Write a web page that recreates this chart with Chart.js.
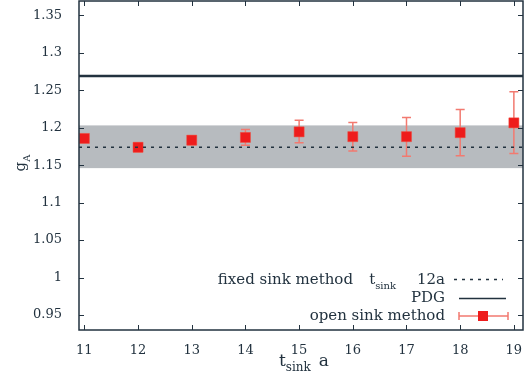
<!DOCTYPE html>
<html>
<head>
<meta charset="utf-8">
<script src="https://cdn.jsdelivr.net/npm/chart.js@4.4.0/dist/chart.umd.min.js"></script>
<style>
  html, body { margin: 0; padding: 0; background: #fff; }
  #wrap { width: 525px; height: 378px; position: relative; }
</style>
</head>
<body>
<div id="wrap"><canvas id="chart"></canvas></div>
<script>
// open sink method: g_A per t_sink/a, with lower/upper error ends
const tSink = [11, 12, 13, 14, 15, 16, 17, 18, 19];
const gA = [1.1856, 1.1738, 1.1833, 1.1870, 1.1944, 1.1880, 1.1880, 1.1933, 1.2064];
const gALow = [1.1806, 1.1678, 1.1773, 1.1765, 1.1800, 1.1690, 1.1620, 1.1624, 1.1656];
const gAHigh = [1.1906, 1.1798, 1.1893, 1.1975, 1.2100, 1.2070, 1.2136, 1.2243, 1.2478];

// fixed sink method (t_sink = 12a): central value and error band
const fixedSink = 1.174;
const fixedSinkLow = 1.146;
const fixedSinkHigh = 1.203;

// PDG value
const pdgValue = 1.269;

const xTicks = [11, 12, 13, 14, 15, 16, 17, 18, 19];
const yTicks = [0.95, 1, 1.05, 1.1, 1.15, 1.2, 1.25, 1.3, 1.35];
const xRange = [10.9, 19.17];
const yRange = [0.93, 1.369];

const FONT = '"DejaVu Serif", serif';
const INK = '#22323f';
const RED = '#ee1c1c';
const RED_LIGHT = '#f27a70';

// text with a subscript part, e.g. t_sink
function subText(ctx, x, y, base, sub, size, align) {
  ctx.font = size + 'px ' + FONT;
  const wb = ctx.measureText(base).width;
  ctx.font = Math.round(size * 0.68) + 'px ' + FONT;
  const ws = ctx.measureText(sub).width;
  let x0 = x;
  if (align === 'right') x0 = x - wb - ws;
  if (align === 'center') x0 = x - (wb + ws) / 2;
  ctx.textAlign = 'left';
  ctx.textBaseline = 'alphabetic';
  ctx.font = size + 'px ' + FONT;
  ctx.fillText(base, x0, y);
  ctx.font = Math.round(size * 0.68) + 'px ' + FONT;
  ctx.fillText(sub, x0 + wb, y + size * 0.3);
  return x0 + wb + ws;
}

const frame = {
  id: 'frame',
  beforeDatasetsDraw(chart) {
    const { ctx, chartArea: a, scales: { x, y } } = chart;
    ctx.save();
    // error band of the fixed sink result
    ctx.fillStyle = '#b7bbbf';
    const yt = y.getPixelForValue(fixedSinkHigh);
    const yb = y.getPixelForValue(fixedSinkLow);
    ctx.fillRect(a.left, yt, a.right - a.left, yb - yt);

    // error bars, under the point markers
    ctx.strokeStyle = RED_LIGHT;
    ctx.lineWidth = 1.5;
    tSink.forEach((t, i) => {
      const px = x.getPixelForValue(t);
      const lo = y.getPixelForValue(gALow[i]);
      const hi = y.getPixelForValue(gAHigh[i]);
      ctx.beginPath();
      ctx.moveTo(px, lo); ctx.lineTo(px, hi);
      ctx.moveTo(px - 4.5, lo); ctx.lineTo(px + 4.5, lo);
      ctx.moveTo(px - 4.5, hi); ctx.lineTo(px + 4.5, hi);
      ctx.stroke();
    });
    ctx.restore();
  },
  afterDraw(chart) {
    const { ctx, chartArea: a, scales: { x, y } } = chart;
    ctx.save();
    // plot border and inward ticks
    ctx.strokeStyle = INK;
    ctx.lineWidth = 1.5;
    ctx.strokeRect(a.left, a.top, a.right - a.left, a.bottom - a.top);
    ctx.lineWidth = 1;
    ctx.beginPath();
    xTicks.forEach(v => {
      const px = Math.round(x.getPixelForValue(v)) + 0.5;
      ctx.moveTo(px, a.bottom); ctx.lineTo(px, a.bottom - 5);
      ctx.moveTo(px, a.top); ctx.lineTo(px, a.top + 5);
    });
    yTicks.forEach(v => {
      const py = Math.round(y.getPixelForValue(v)) + 0.5;
      ctx.moveTo(a.left, py); ctx.lineTo(a.left + 5, py);
      ctx.moveTo(a.right, py); ctx.lineTo(a.right - 5, py);
    });
    ctx.stroke();

    ctx.fillStyle = INK;
    // x axis title
    const end = subText(ctx, 279, 366, 't', 'sink', 17, 'left');
    ctx.font = '17px ' + FONT;
    ctx.fillText('a', end + 8, 366);

    // y axis title, rotated
    ctx.save();
    ctx.translate(25, 163);
    ctx.rotate(-Math.PI / 2);
    subText(ctx, 0, 0, 'g', 'A', 15, 'center');
    ctx.restore();

    // legend
    ctx.font = '15px ' + FONT;
    ctx.textAlign = 'right';
    ctx.fillText('12a', 445, 284);
    subText(ctx, 396, 284, 't', 'sink', 15, 'right');
    ctx.font = '15px ' + FONT;
    ctx.textAlign = 'right';
    ctx.fillText('fixed sink method', 353, 284);
    ctx.fillText('PDG', 445, 302);
    ctx.fillText('open sink method', 445, 320);

    ctx.lineWidth = 1.3;
    ctx.setLineDash([3, 5]);
    ctx.beginPath(); ctx.moveTo(454, 279.5); ctx.lineTo(503, 279.5); ctx.stroke();
    ctx.setLineDash([]);
    ctx.lineWidth = 1.3;
    ctx.beginPath(); ctx.moveTo(459, 298.5); ctx.lineTo(506, 298.5); ctx.stroke();
    ctx.strokeStyle = RED_LIGHT;
    ctx.lineWidth = 1.5;
    ctx.beginPath();
    ctx.moveTo(459, 316); ctx.lineTo(508, 316);
    ctx.moveTo(459, 312); ctx.lineTo(459, 320);
    ctx.moveTo(508, 312); ctx.lineTo(508, 320);
    ctx.stroke();
    ctx.fillStyle = RED;
    ctx.fillRect(478, 311, 10, 10);
    ctx.restore();
  }
};

new Chart(document.getElementById('chart'), {
  type: 'scatter',
  data: {
    datasets: [
      {
        label: 'fixed sink method',
        type: 'line',
        data: [{ x: xRange[0], y: fixedSink }, { x: xRange[1], y: fixedSink }],
        borderColor: INK,
        borderWidth: 1.5,
        borderDash: [3, 5],
        pointRadius: 0,
        fill: false
      },
      {
        label: 'PDG',
        type: 'line',
        data: [{ x: xRange[0], y: pdgValue }, { x: xRange[1], y: pdgValue }],
        borderColor: INK,
        borderWidth: 2.5,
        pointRadius: 0,
        fill: false
      },
      {
        label: 'open sink method',
        data: tSink.map((t, i) => ({ x: t, y: gA[i] })),
        pointStyle: 'rect',
        pointRadius: 7.1,
        backgroundColor: RED,
        borderColor: '#f04a3a',
        borderWidth: 0.5
      }
    ]
  },
  options: {
    responsive: true,
    maintainAspectRatio: false,
    animation: false,
    layout: { autoPadding: false, padding: { top: 1, right: 2, left: 0, bottom: 0 } },
    plugins: { legend: { display: false }, tooltip: { enabled: false } },
    scales: {
      x: {
        type: 'linear',
        min: xRange[0],
        max: xRange[1],
        afterBuildTicks: s => { s.ticks = xTicks.map(v => ({ value: v })); },
        afterFit: s => { s.height = 48; s.paddingLeft = 0; s.paddingRight = 0; },
        grid: { display: false },
        border: { display: false },
        ticks: {
          color: INK,
          font: { family: FONT, size: 13 },
          padding: 5,
          maxRotation: 0,
          callback: v => String(v)
        }
      },
      y: {
        min: yRange[0],
        max: yRange[1],
        afterBuildTicks: s => { s.ticks = yTicks.map(v => ({ value: v })); },
        afterFit: s => { s.width = 79; s.paddingTop = 0; s.paddingBottom = 0; },
        grid: { display: false },
        border: { display: false },
        ticks: {
          color: INK,
          font: { family: FONT, size: 13 },
          padding: 9,
          callback: v => String(Math.round(v * 100) / 100)
        }
      }
    }
  },
  plugins: [frame]
});
</script>
</body>
</html>
